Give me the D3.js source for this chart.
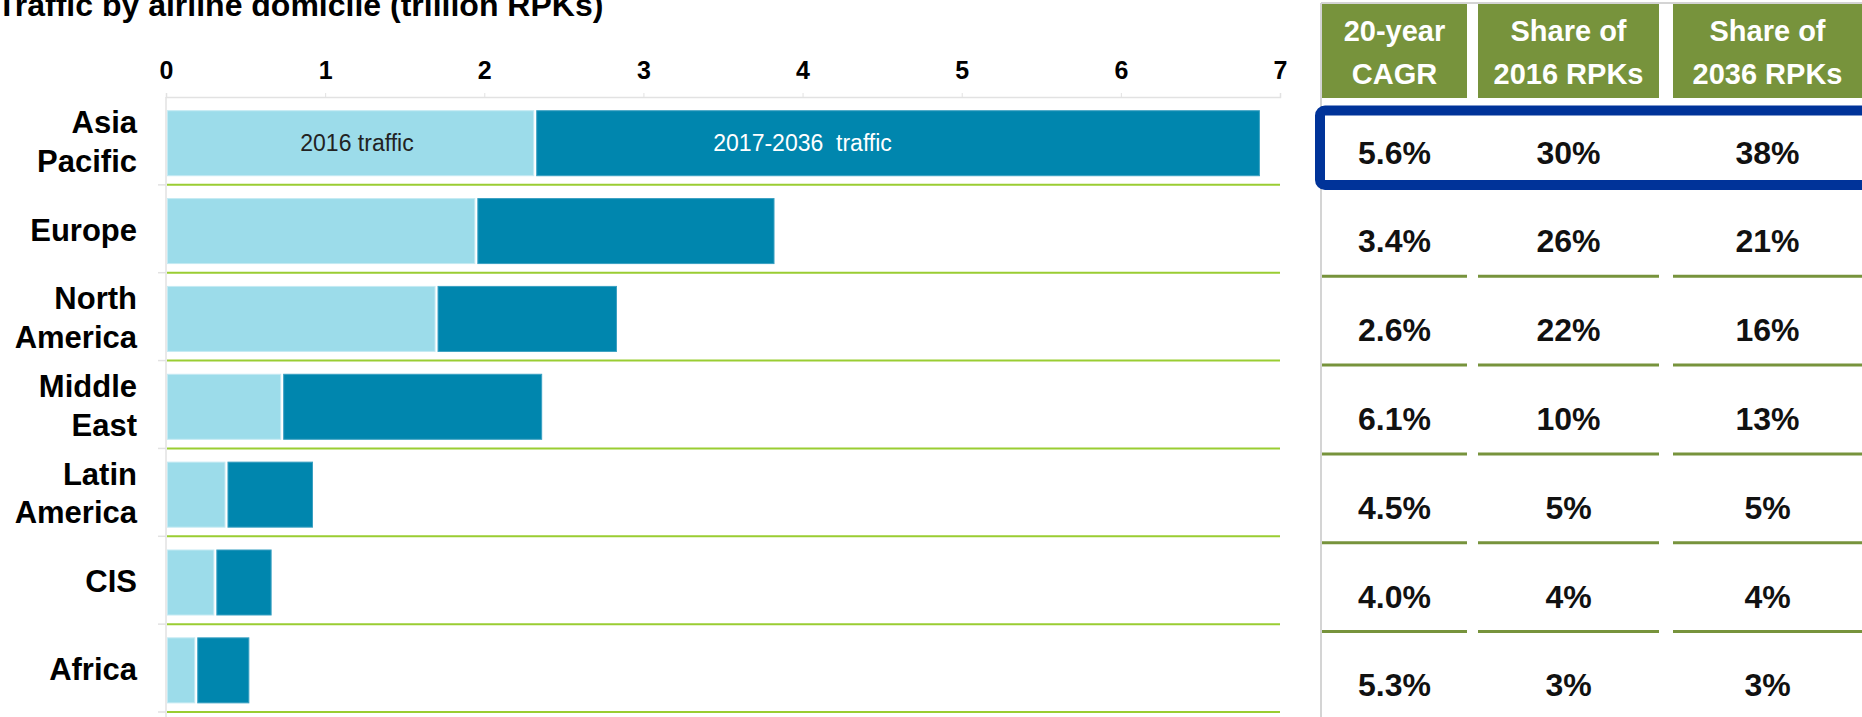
<!DOCTYPE html>
<html>
<head>
<meta charset="utf-8">
<script src="https://cdn.jsdelivr.net/npm/d3@7"></script>
<style>
    body { margin: 0; background: white; }
    svg { display: block; font-family: 'Liberation Sans', Arial, sans-serif; }
</style>
</head>
<body>
<div id="traffic-container"></div>
<script>
// chart data (trillion RPKs)
const regions = [['Asia', 'Pacific'], ['Europe'], ['North', 'America'], ['Middle', 'East'], ['Latin', 'America'], ['CIS'], ['Africa']]
const traffic2016 = [2.32, 1.95, 1.70, 0.73, 0.38, 0.31, 0.19]
const traffic2017to2036 = [4.56, 1.88, 1.14, 1.64, 0.55, 0.36, 0.34]
const xTicks = [0, 1, 2, 3, 4, 5, 6, 7]
const segmentLabels = ['2016 traffic', '2017-2036  traffic']
const segmentLabelAt = [1.2, 4.0]

// table data
const tableHeaders = [['20-year', 'CAGR'], ['Share of', '2016 RPKs'], ['Share of', '2036 RPKs']]
const cagr = ['5.6%', '3.4%', '2.6%', '6.1%', '4.5%', '4.0%', '5.3%']
const share2016 = ['30%', '26%', '22%', '10%', '5%', '4%', '3%']
const share2036 = ['38%', '21%', '16%', '13%', '5%', '4%', '3%']
const highlighted = 'Asia Pacific'

const width = 1862
const height = 717
const lightBlue = '#9cdcea'
const darkBlue = '#0086ae'
const limeGreen = '#9acd32'
const olive = '#77933c'
const lightGrey = '#e2e2e2'

const keys = regions.map(d => d.join(' '))
const data = keys.map((k, i) => ({ region: k, base: traffic2016[i], growth: traffic2017to2036[i] }))

const svg = d3.select('#traffic-container')
    .append('svg')
    .attr('id', 'traffic-chart')
    .attr('width', width)
    .attr('height', height)

// title is cropped at the top edge in the original
svg.append('text')
    .attr('x', -3)
    .attr('y', 16)
    .attr('font-size', 32)
    .attr('font-weight', 'bold')
    .text('Traffic by airline domicile (trillion RPKs)')

// ---- bar chart ----
const x = d3.scaleLinear().domain([0, 7]).range([166, 1280])
const y = d3.scaleBand()
    .domain(keys)
    .range([97, 712])
    .paddingInner(0.26)
    .paddingOuter(0.13)
    .align(0.6)

const xAxis = d3.axisTop(x)
    .tickValues(xTicks)
    .tickSize(4)
    .tickPadding(14)
    .tickFormat(d3.format('d'))

svg.append('g')
    .attr('class', 'x-axis')
    .attr('transform', `translate(0,${y.range()[0]})`)
    .call(xAxis)
    .attr('font-family', null)
    .attr('font-size', 25)
    .attr('font-weight', 'bold')
    .call(g => g.select('.domain').attr('stroke', lightGrey).attr('stroke-width', 1.5))
    .call(g => g.selectAll('.tick line').attr('stroke', lightGrey))
    .call(g => g.selectAll('.tick text').attr('fill', '#000'))

// left axis line with small ticks at row boundaries
svg.append('line')
    .attr('x1', x(0))
    .attr('x2', x(0))
    .attr('y1', y.range()[0])
    .attr('y2', height)
    .attr('stroke', lightGrey)
    .attr('stroke-width', 1.5)

const boundaries = keys.map((k, i) => y.range()[0] + y.step() * (i + 1))

svg.append('g')
    .selectAll('line')
    .data(boundaries)
    .join('line')
    .attr('x1', x(0) - 8)
    .attr('x2', x(0))
    .attr('y1', d => d)
    .attr('y2', d => d)
    .attr('stroke', lightGrey)
    .attr('stroke-width', 1.5)

svg.append('g')
    .attr('class', 'separators')
    .selectAll('line')
    .data(boundaries)
    .join('line')
    .attr('x1', x(0) + 1)
    .attr('x2', x(7))
    .attr('y1', d => d)
    .attr('y2', d => d)
    .attr('stroke', limeGreen)
    .attr('stroke-width', 2)

const stacked = d3.stack().keys(['base', 'growth'])(data)
const fills = [lightBlue, darkBlue]
const strokes = ['#c4eaf3', '#3aa0c2']

svg.append('g')
    .attr('class', 'bars')
    .selectAll('g')
    .data(stacked)
    .join('g')
    .attr('fill', (d, i) => fills[i])
    .attr('stroke', (d, i) => strokes[i])
    .attr('stroke-width', 1)
    .selectAll('rect')
    .data(d => d)
    .join('rect')
    .attr('x', d => x(d[0]) + 1.5)
    .attr('y', d => y(d.data.region))
    .attr('width', d => x(d[1]) - x(d[0]) - 3)
    .attr('height', y.bandwidth())

// segment labels on the first bar
svg.append('g')
    .attr('class', 'segment-labels')
    .selectAll('text')
    .data(segmentLabels)
    .join('text')
    .attr('x', (d, i) => x(segmentLabelAt[i]))
    .attr('y', y(keys[0]) + y.bandwidth() / 2 + 8)
    .attr('text-anchor', 'middle')
    .attr('font-size', 23)
    .attr('fill', (d, i) => i === 0 ? '#222' : '#fff')
    .style('white-space', 'pre')
    .text(d => d)

// region labels
const lineHeight = 38.5
svg.append('g')
    .attr('class', 'region-labels')
    .selectAll('text')
    .data(regions)
    .join('text')
    .attr('text-anchor', 'end')
    .attr('font-size', 31)
    .attr('font-weight', 'bold')
    .each(function (lines, i) {
        const cy = y(keys[i]) + y.bandwidth() / 2
        d3.select(this)
            .selectAll('tspan')
            .data(lines)
            .join('tspan')
            .attr('x', 137)
            .attr('y', (l, j) => cy + (j - (lines.length - 1) / 2) * lineHeight + 9.5)
            .text(l => l)
    })

// ---- table ----
const tableLeft = 1321
const columns = [
    { x0: 1322, x1: 1467, values: cagr },
    { x0: 1478, x1: 1659, values: share2016 },
    { x0: 1673, x1: 1862, values: share2036 }
]
const rowY = d3.scaleBand().domain(keys).range([107.6, 729.2])
const rowCenter = k => rowY(k) + rowY.bandwidth() / 2

const table = svg.append('g').attr('class', 'table')

table.append('line')
    .attr('x1', tableLeft)
    .attr('x2', tableLeft)
    .attr('y1', 3)
    .attr('y2', height)
    .attr('stroke', '#d4d4d4')
    .attr('stroke-width', 2)

table.append('line')
    .attr('x1', tableLeft)
    .attr('x2', width)
    .attr('y1', 3)
    .attr('y2', 3)
    .attr('stroke', '#d4d4d4')
    .attr('stroke-width', 2)

const header = table.append('g')
    .selectAll('g')
    .data(columns)
    .join('g')

header.append('rect')
    .attr('x', d => d.x0)
    .attr('y', 4)
    .attr('width', d => d.x1 - d.x0)
    .attr('height', 94)
    .attr('fill', olive)

header.append('text')
    .attr('text-anchor', 'middle')
    .attr('font-size', 29)
    .attr('font-weight', 'bold')
    .attr('fill', '#fff')
    .selectAll('tspan')
    .data((d, i) => tableHeaders[i].map(t => ({ t, cx: (d.x0 + d.x1) / 2 })))
    .join('tspan')
    .attr('x', d => d.cx)
    .attr('y', (d, j) => 40.5 + j * 43.5)
    .text(d => d.t)

// row separators under every row except the highlighted one
const separatorRows = keys.filter(k => k !== highlighted)
columns.forEach(col => {
    table.append('g')
        .selectAll('line')
        .data(separatorRows)
        .join('line')
        .attr('x1', col.x0)
        .attr('x2', col.x1)
        .attr('y1', k => rowCenter(k) + 35.5)
        .attr('y2', k => rowCenter(k) + 35.5)
        .attr('stroke', olive)
        .attr('stroke-width', 3)

    table.append('g')
        .selectAll('text')
        .data(col.values)
        .join('text')
        .attr('x', (col.x0 + col.x1) / 2)
        .attr('y', (d, i) => rowCenter(keys[i]) + 11.5)
        .attr('text-anchor', 'middle')
        .attr('font-size', 32)
        .attr('font-weight', 'bold')
        .attr('fill', '#111')
        .text(d => d)
})

// highlight box
table.append('rect')
    .attr('x', tableLeft - 1)
    .attr('y', rowCenter(highlighted) - 41.5)
    .attr('width', 600)
    .attr('height', 74.5)
    .attr('rx', 5)
    .attr('fill', 'none')
    .attr('stroke', '#003399')
    .attr('stroke-width', 10)
</script>
</body>
</html>
